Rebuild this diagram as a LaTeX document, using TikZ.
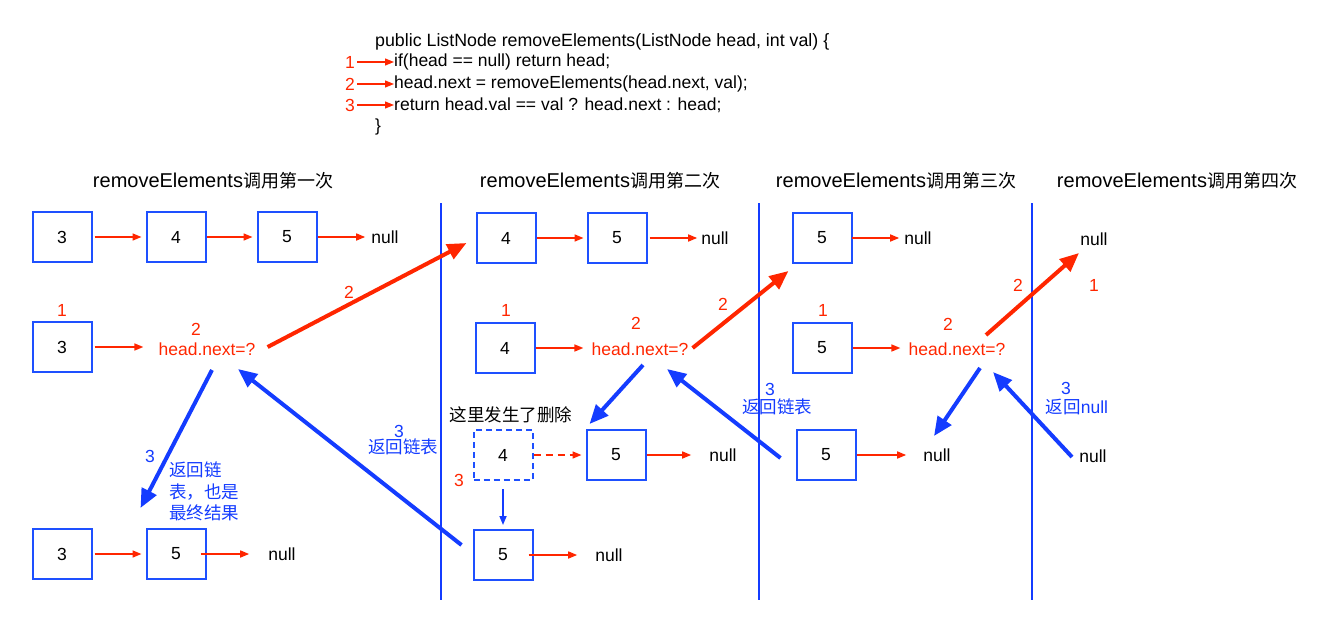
\documentclass[tikz,border=0pt]{standalone}
\usepackage{fontspec}
\setmainfont{Liberation Sans}
\newfontfamily\cjk{Noto Sans CJK SC}
\usetikzlibrary{arrows.meta}

\definecolor{myred}{RGB}{255,38,0}
\definecolor{myblue}{RGB}{20,60,255}
\definecolor{boxblue}{RGB}{30,80,255}
\newcommand\txtsize{\fontsize{17.5}{21.5}\selectfont}
\newcommand\headsize{\fontsize{20}{24}\selectfont}
\newcommand\headcjk[1]{{\cjk\fontsize{18}{22}\selectfont #1}}

\tikzset{
  box/.style={draw=boxblue, line width=2pt, minimum width=59pt, minimum height=50pt},
  dashbox/.style={box, dash pattern=on 6pt off 4pt},
  redtxt/.style={text=myred},
  bluetxt/.style={text=myblue},
  heading/.style={font=\headsize},
  rowarr/.style={draw=myred, line width=1.6pt, -{Triangle[length=9pt,width=7pt]}},
  bigred/.style={draw=myred, line width=4pt, -{Triangle[length=19pt,width=16pt]}},
  bigblue/.style={draw=myblue, line width=4pt, -{Triangle[length=19pt,width=16pt]}},
  thinblue/.style={draw=myblue, line width=1.6pt, -{Triangle[length=9pt,width=7pt]}},
  divider/.style={draw=myblue, line width=2pt}
}

\begin{document}
\begin{tikzpicture}[x=1pt, y=-1pt, every node/.style={font=\txtsize, inner sep=0pt}]
  \useasboundingbox (0,0) rectangle (1321,634);

  % Code
  \node[anchor=west, font=\fontsize{17.8}{21}\selectfont] (code0) at (375,42) {public ListNode removeElements(ListNode head, int val) \{};
  \node[anchor=west] (code1) at (394,62) {if(head == null) return head;};
  \node[anchor=west] (code2) at (394,84) {head.next = removeElements(head.next, val);};
  \node[anchor=west] (code3) at (394,105) {return head.val == val ? head.next : head;};
  \node[anchor=west] (code4) at (375,127) {\}};
  \node[redtxt] (n1) at (350,62) {1};
  \node[redtxt] (n2) at (350,84) {2};
  \node[redtxt] (n3) at (350,105) {3};
  \draw[rowarr, line width=1.2pt, shorten <=2pt] (n1.east) -- (code1.west);
  \draw[rowarr, line width=1.2pt, shorten <=2pt] (n2.east) -- (code2.west);
  \draw[rowarr, line width=1.2pt, shorten <=2pt] (n3.east) -- (code3.west);

  % Headings and dividers
  \node[heading] (head1) at (213,181) {removeElements\headcjk{调用第一次}};
  \node[heading] (head2) at (600,181) {removeElements\headcjk{调用第二次}};
  \node[heading] (head3) at (896,181) {removeElements\headcjk{调用第三次}};
  \node[heading] (head4) at (1177,181) {removeElements\headcjk{调用第四次}};
  \draw[divider] (441,203) -- (441,600);
  \draw[divider] (759,203) -- (759,600);
  \draw[divider] (1032,203) -- (1032,600);

  % First call
  \node[box] (a1) at (62,237) {3};
  \node[box] (a2) at (176,237) {4};
  \node[box] (a3) at (287,237) {5};
  \node (an) at (385,237) {null};
  \draw[rowarr, shorten <=2pt, shorten >=4pt] (a1.east) -- (a2.west);
  \draw[rowarr, shorten >=4pt] (a2.east) -- (a3.west);
  \draw[rowarr, shorten >=6pt] (a3.east) -- (an.west);

  \node[redtxt] (b0) at (62,310) {1};
  \node[box] (b1) at (62,347) {3};
  \node[redtxt] (bs) at (196,329) {2};
  \node[redtxt] (bq) at (207,349) {head.next=?};
  \draw[rowarr, shorten <=2pt, shorten >=15pt] (b1.east) -- (b1.east -| bq.west);

  \node[box] (c1) at (62,554) {3};
  \node[box] (c2) at (176,554) {5};
  \node (cn) at (282,554) {null};
  \draw[rowarr, shorten <=2pt, shorten >=4pt] (c1.east) -- (c2.west);
  \draw[rowarr, shorten <=-6pt, shorten >=19pt] (c2.east) -- (cn.west);

  \node[redtxt] (bl) at (349,292) {2};
  \draw[bigblue] ([xshift=5pt,yshift=-21pt]bq.center) -- ([xshift=-5pt,yshift=20pt]c2.north west);
  \node[bluetxt] (cl) at (150,456) {3};
  \node[bluetxt, font={\txtsize\cjk}, align=left, anchor=north west] (ct) at (169,462) {返回链\\表，也是\\最终结果};

  % Second call
  \node[box] (d1) at (506,238) {4};
  \node[box] (d2) at (617,238) {5};
  \node (dn) at (715,238) {null};
  \draw[rowarr, shorten >=3pt] (d1.east) -- (d2.west);
  \draw[rowarr, shorten <=2pt, shorten >=4pt] (d2.east) -- (dn.west);

  \node[redtxt] (e0) at (506,310) {1};
  \node[box] (e1) at (505,348) {4};
  \node[redtxt] (es) at (636,323) {2};
  \node[redtxt] (eq) at (640,349) {head.next=?};
  \draw[rowarr, shorten >=8pt] (e1.east) -- (e1.east -| eq.west);

  \node (el) at (511,415) {\cjk 这里发生了删除};
  \node[dashbox] (f1) at (503,455) {4};
  \node[redtxt] (f0) at (459,480) {3};
  \node[box] (f2) at (616,455) {5};
  \node (fn) at (723,455) {null};
  \draw[rowarr, dash pattern=on 7pt off 5pt, shorten >=4pt] (f1.east) -- (f2.west);
  \draw[rowarr, shorten >=18pt] (f2.east) -- (fn.west);

  \node[box] (g1) at (503,555) {5};
  \node (gn) at (609,555) {null};
  \draw[thinblue, shorten <=8pt, shorten >=4pt] (f1.south) -- (g1.north);
  \draw[rowarr, shorten <=-5pt, shorten >=18pt] (g1.east) -- (gn.west);

  \node[bluetxt] (gl) at (399,431) {3};
  \node[bluetxt] (gt) at (403,447) {\cjk 返回链表};
  \node[redtxt] (ml) at (723,304) {2};

  % Third call
  \node[box] (h1) at (822,238) {5};
  \node (hn) at (918,238) {null};
  \draw[rowarr, shorten <=-1pt, shorten >=5pt] (h1.east) -- (hn.west);

  \node[redtxt] (i0) at (823,310) {1};
  \node[box] (i1) at (822,348) {5};
  \node[redtxt] (is) at (948,324) {2};
  \node[redtxt] (iq) at (957,349) {head.next=?};
  \draw[rowarr, shorten >=8pt] (i1.east) -- (i1.east -| iq.west);

  \node[box] (j1) at (826,455) {5};
  \node (jn) at (937,455) {null};
  \draw[rowarr, shorten >=17pt] (j1.east) -- (jn.west);

  \node[bluetxt] (jl) at (770,389) {3};
  \node[bluetxt] (jt) at (777,407) {\cjk 返回链表};
  \node[redtxt] (nl) at (1018,285) {2};

  % Fourth call
  \node (kn) at (1094,239) {null};
  \node[redtxt] (k0) at (1094,285) {1};
  \node (ln) at (1093,456) {null};
  \node[bluetxt] (ll) at (1066,388) {3};
  \node[bluetxt] (lt) at (1077,407) {{\cjk 返回}null};

  % Calls and returns
  \draw[bigred] ([xshift=12pt,yshift=2pt]bq.east) -- ([xshift=-9pt,yshift=-5pt]d1.west);
  \draw[bigred] ([xshift=4pt,yshift=1pt]eq.east) -- ([xshift=-3pt,yshift=-7pt]h1.south west);
  \draw[bigred] ([xshift=29pt,yshift=14pt]iq.center) -- ([xshift=-15pt,yshift=-14pt]kn.center);
  \draw[bigblue] ([xshift=-11pt,yshift=10pt]g1.west) -- ([xshift=31pt,yshift=-20pt]bq.center);
  \draw[bigblue] ([xshift=3pt,yshift=-16pt]eq.center) -- ([xshift=4pt,yshift=5pt]f2.north west);
  \draw[bigblue] ([xshift=-15pt,yshift=-3pt]j1.west) -- ([xshift=27pt,yshift=-20pt]eq.center);
  \draw[bigblue] ([xshift=23pt,yshift=-19pt]iq.center) -- ([xshift=-3pt,yshift=19pt]jn.center);
  \draw[bigblue] ([xshift=-21pt,yshift=-1pt]ln.center) -- ([xshift=36pt,yshift=-23pt]iq.center);
\end{tikzpicture}
\end{document}
